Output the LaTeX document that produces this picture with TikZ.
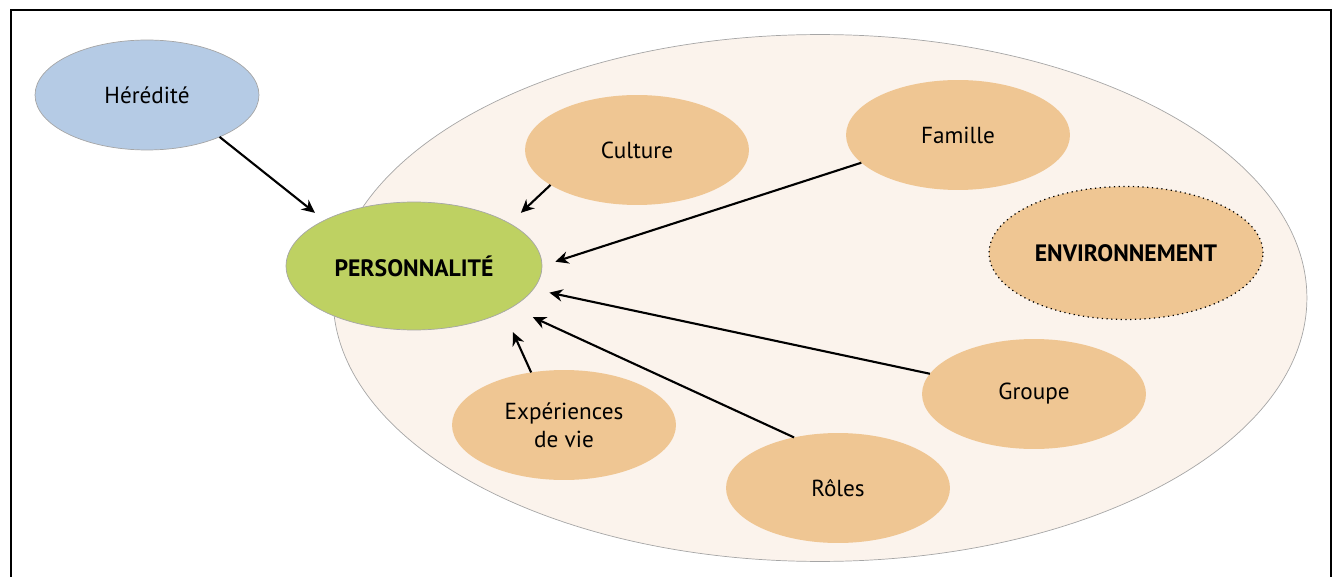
\documentclass[tikz,border=0pt]{standalone}
\usepackage{fontspec}
\setmainfont{PT Sans}
\usepackage{xcolor}
\usepackage{tikz}
\usetikzlibrary{shapes,arrows.meta,positioning}

\definecolor{bleu}{HTML}{B5CBE5}
\definecolor{vert}{HTML}{BED162}
\definecolor{orange}{HTML}{EFC693}
\definecolor{creme}{HTML}{FBF3EC}

\begin{document}
\begin{tikzpicture}[x=0.02cm,y=-0.02cm,
    bulle/.style={ellipse,fill=orange,minimum width=4.48cm,minimum height=2.2cm,inner sep=0pt,outer sep=0pt,font=\fontsize{13.2}{16}\selectfont,align=center},
    fleche/.style={-{Stealth[length=7.5pt,width=7pt]},line width=1.2pt}]
    \useasboundingbox (0,0) rectangle (1334,577);
    \draw[line width=0.8pt] (11,577) -- (11,10) -- (1331,10) -- (1331,577);

    \node[ellipse,draw=gray!70,line width=0.4pt,fill=creme,minimum width=19.48cm,minimum height=10.54cm] (milieu) at (820,298) {};

    \node[bulle,fill=bleu,draw=gray!70,line width=0.4pt] (her) at (147,95) {Hérédité};
    \node[bulle,fill=vert,draw=gray!70,line width=0.4pt,minimum width=5.12cm,minimum height=2.56cm,font=\fontsize{13.5}{16}\selectfont\bfseries] (pers) at (414,266) {PERSONNALITÉ};

    \node[bulle] (cult) at (637,150) {Culture};
    \node[bulle] (fam) at (958,135) {Famille};
    \node[bulle,draw,dotted,line width=0.7pt,minimum width=5.48cm,minimum height=2.66cm,font=\fontsize{13.5}{16}\selectfont\bfseries] (env) at (1126,253) {ENVIRONNEMENT};
    \node[bulle] (grp) at (1034,394) {Groupe};
    \node[bulle] (rol) at (838,488) {Rôles};
    \node[bulle] (exp) at (564,425) {Expériences\\de vie};

    \draw[fleche,shorten >=0.24cm] (her.-30) -- (pers.153);
    \draw[fleche,shorten >=0.31cm] (cult.202) -- (pers.24);
    \draw[fleche,shorten >=0.28cm] (fam.196) -- (pers.0);
    \draw[fleche,shorten >=0.33cm] (grp.169) -- (pers.-11);
    \draw[fleche,shorten >=0.47cm] (rol.131) -- (pers.-23);
    \draw[fleche,shorten >=0.45cm] (exp.122) -- (pers.-27);
\end{tikzpicture}
\end{document}
